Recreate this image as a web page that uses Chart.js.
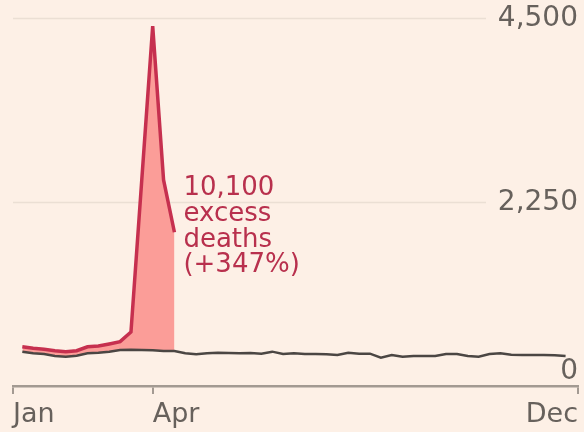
<!DOCTYPE html>
<html>
<head>
<meta charset="utf-8">
<script src="https://cdn.jsdelivr.net/npm/chart.js@4.4.0/dist/chart.umd.min.js"></script>
<style>
  html, body { margin: 0; padding: 0; background: #fdf0e6; overflow: hidden; }
  #wrap { width: 584px; height: 432px; position: relative; }
</style>
</head>
<body>
<div id="wrap"><canvas id="deathsChart"></canvas></div>
<script>
// weekly deaths, one value per week from the first week of January
const expected = [420, 400, 391, 367, 359, 371, 400, 407, 420, 440, 444, 440, 436, 428, 428,
  400, 388, 400, 407, 404, 400, 404, 395, 420, 391, 400, 391, 391, 388, 379,
  407, 395, 395, 346, 379, 358, 367, 367, 367, 391, 391, 367, 358, 391, 400,
  383, 379, 379, 379, 375, 367];
const actual = [480, 461, 449, 432, 420, 432, 480, 489, 514, 542, 660, 2530, 4400, 2520, 1880];

const monthTicks = [0, 90, 364];          // day of year
const monthLabels = ['Jan', 'Apr', 'Dec'];
const valueTicks = [0, 2250, 4500];
const noteLines = ['10,100', 'excess', 'deaths', '(+347%)'];

const weekDay = i => 6 + 7 * i;
const toPoints = arr => arr.map((v, i) => ({ x: weekDay(i), y: v }));

const ink = '#67615c';
const axisGrey = '#a39a92';
const gridGrey = '#ebdfd4';
const red = '#c6304f';
const fillRed = '#fb9d98';

Chart.defaults.font.family = "'DejaVu Sans', sans-serif";

// FT style gridlines, value labels, month labels and the annotation
const ftLabels = {
  id: 'ftLabels',
  beforeDraw(chart) {
    const { ctx, chartArea, scales: { y } } = chart;
    ctx.save();
    ctx.strokeStyle = gridGrey;
    ctx.lineWidth = 1.5;
    valueTicks.forEach(v => {
      if (v === 0) return;
      const py = Math.round(y.getPixelForValue(v)) + 0.5;
      ctx.beginPath();
      ctx.moveTo(chartArea.left, py);
      ctx.lineTo(chartArea.right - 92, py);
      ctx.stroke();
    });
    ctx.restore();
  },
  afterDraw(chart) {
    const { ctx, chartArea, scales: { x, y } } = chart;
    ctx.save();
    ctx.fillStyle = ink;
    ctx.font = "28px 'DejaVu Sans'";
    ctx.textAlign = 'right';
    ctx.textBaseline = 'middle';
    valueTicks.forEach(v => {
      const py = y.getPixelForValue(v) + (v === 0 ? -14 : 1);
      ctx.fillText(v.toLocaleString('en-US'), chartArea.right, py);
    });

    ctx.font = "27px 'DejaVu Sans'";
    ctx.textBaseline = 'alphabetic';
    monthTicks.forEach((d, i) => {
      const px = x.getPixelForValue(d);
      ctx.textAlign = i === monthTicks.length - 1 ? 'right' : 'left';
      ctx.fillText(monthLabels[i], px, 422);
    });

    // annotation next to the end of the red line
    const meta = chart.getDatasetMeta(0);
    const last = meta.data[meta.data.length - 1];
    ctx.fillStyle = '#b8304d';
    ctx.font = "26px 'DejaVu Sans'";
    ctx.textAlign = 'left';
    noteLines.forEach((t, i) => {
      ctx.fillText(t, last.x + 9, last.y - 37 + i * 25.7);
    });
    ctx.restore();
  }
};

new Chart(document.getElementById('deathsChart'), {
  type: 'line',
  data: {
    datasets: [{
      label: 'Deaths',
      data: toPoints(actual),
      borderColor: red,
      borderWidth: 3.5,
      pointRadius: 0,
      tension: 0,
      fill: { target: 1, above: fillRed, below: 'rgba(0,0,0,0)' }
    }, {
      label: 'Expected',
      data: toPoints(expected),
      borderColor: '#4b4643',
      borderWidth: 2.5,
      pointRadius: 0,
      tension: 0,
      fill: false
    }]
  },
  options: {
    responsive: true,
    maintainAspectRatio: false,
    animation: false,
    layout: { padding: { left: 13, right: 6, top: 18, bottom: 0 } },
    plugins: {
      legend: { display: false },
      tooltip: { enabled: false },
      filler: { drawTime: 'beforeDatasetsDraw' }
    },
    scales: {
      x: {
        type: 'linear',
        min: 0,
        max: 364,
        afterBuildTicks: scale => { scale.ticks = monthTicks.map(v => ({ value: v })); },
        afterFit: scale => { scale.height = 46; },
        grid: { drawOnChartArea: false, drawTicks: true, tickLength: 8, color: axisGrey, lineWidth: 2 },
        border: { display: true, color: axisGrey, width: 2.5 },
        ticks: { display: false }
      },
      y: {
        display: false,
        min: 0,
        max: 4500
      }
    }
  },
  plugins: [ftLabels]
});
</script>
</body>
</html>
